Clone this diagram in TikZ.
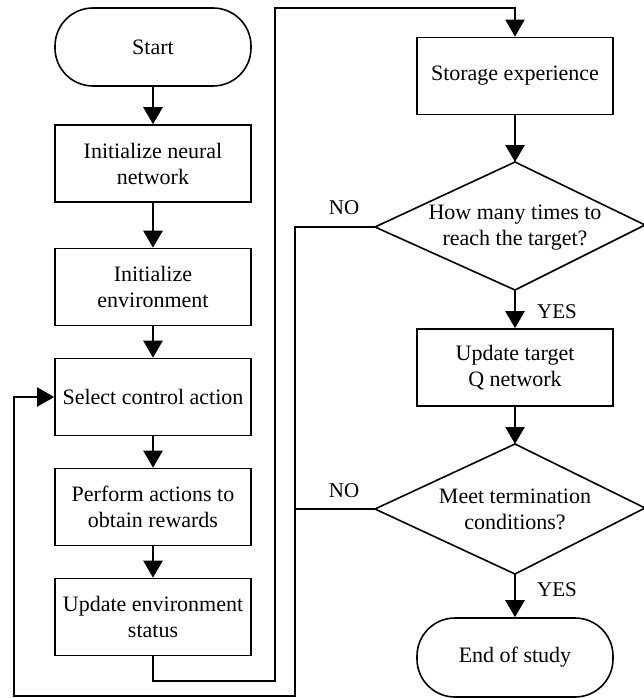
\documentclass[tikz,border=0pt]{standalone}
\usepackage{fontspec}
\setmainfont{Liberation Serif}
\usetikzlibrary{arrows.meta}
\begin{document}
\begin{tikzpicture}[x=1pt,y=-1pt,
  every node/.style={font=\fontsize{22}{26}\selectfont},
  box/.style={draw,line width=1.6pt,minimum width=196pt,minimum height=77pt,align=center,inner sep=2pt},
  term/.style={box,rounded corners=38pt,minimum height=78pt},
  lbl/.style={font=\fontsize{21}{25}\selectfont,inner sep=0pt},
  dtext/.style={align=center,inner sep=0pt},
  arr/.style={line width=2.6pt,-{Triangle[length=17pt,width=19pt]}},
  ln/.style={line width=2pt},
  lnarr/.style={line width=2pt,-{Triangle[length=17pt,width=19pt]}},
  dia/.style={line width=1.6pt,line join=miter}
]
\useasboundingbox (0,0) rectangle (644,698);
% left column
\node[term] (start) at (153,47) {Start};
\node[box] (init1) at (153,163.5) {Initialize neural\\network};
\node[box] (init2) at (153,287) {Initialize\\environment};
\node[box] (sel) at (153,397) {Select control action};
\node[box] (perf) at (153,507) {Perform actions to\\obtain rewards};
\node[box] (upd) at (153,617) {Update environment\\status};
% right column
\node[box] (sto) at (515,76) {Storage experience};
\coordinate (d1t) at (515,162);
\coordinate (d1r) at (645,225);
\coordinate (d1b) at (515,290);
\coordinate (d1l) at (375,227);
\draw[dia] (d1t) -- (d1r) -- (d1b) -- (d1l) -- cycle;
\node[dtext] (d1) at (515,228) {How many times to\\reach the target?};
\node[box] (upt) at (515,367.5) {Update target\\Q network};
\coordinate (d2t) at (515,444);
\coordinate (d2r) at (645,508);
\coordinate (d2b) at (515,574);
\coordinate (d2l) at (375,509);
\draw[dia] (d2t) -- (d2r) -- (d2b) -- (d2l) -- cycle;
\node[dtext] (d2) at (515,509) {Meet termination\\conditions?};
\node[term,minimum height=79pt] (fin) at (515,657.5) {End of study};
% labels
\node[lbl] (no1) at (344,208) {NO};
\node[lbl] (no2) at (344,491) {NO};
\node[lbl] (yes1) at (557,312) {YES};
\node[lbl] (yes2) at (557,590) {YES};
% straight arrows
\draw[arr] (start) -- (init1);
\draw[arr] (init1) -- (init2);
\draw[arr] (init2) -- (sel);
\draw[arr] (sel) -- (perf);
\draw[arr] (perf) -- (upd);
\draw[arr] (sto) -- (d1t);
\draw[arr] (d1b) -- (upt);
\draw[arr] (upt) -- (d2t);
\draw[arr] (d2b) -- (fin);
% loop from update environment to storage
\coordinate (c1) at (275,681);
\coordinate (c2) at (275,8);
\draw[lnarr,line join=miter] (upd.south) |- (c1) -- (c2) -| (sto.north);
% NO loops back to select control action
\coordinate (n1) at (295,227);
\coordinate (n2) at (295,696);
\coordinate (n3) at (14,696);
\coordinate (n4) at (14,397);
\draw[lnarr,line join=miter] (d1l) -- (n1) -- (n2) -- (n3) -- (n4) -- (sel.west);
\draw[ln] (d2l) -- (295,509);
\end{tikzpicture}
\end{document}
